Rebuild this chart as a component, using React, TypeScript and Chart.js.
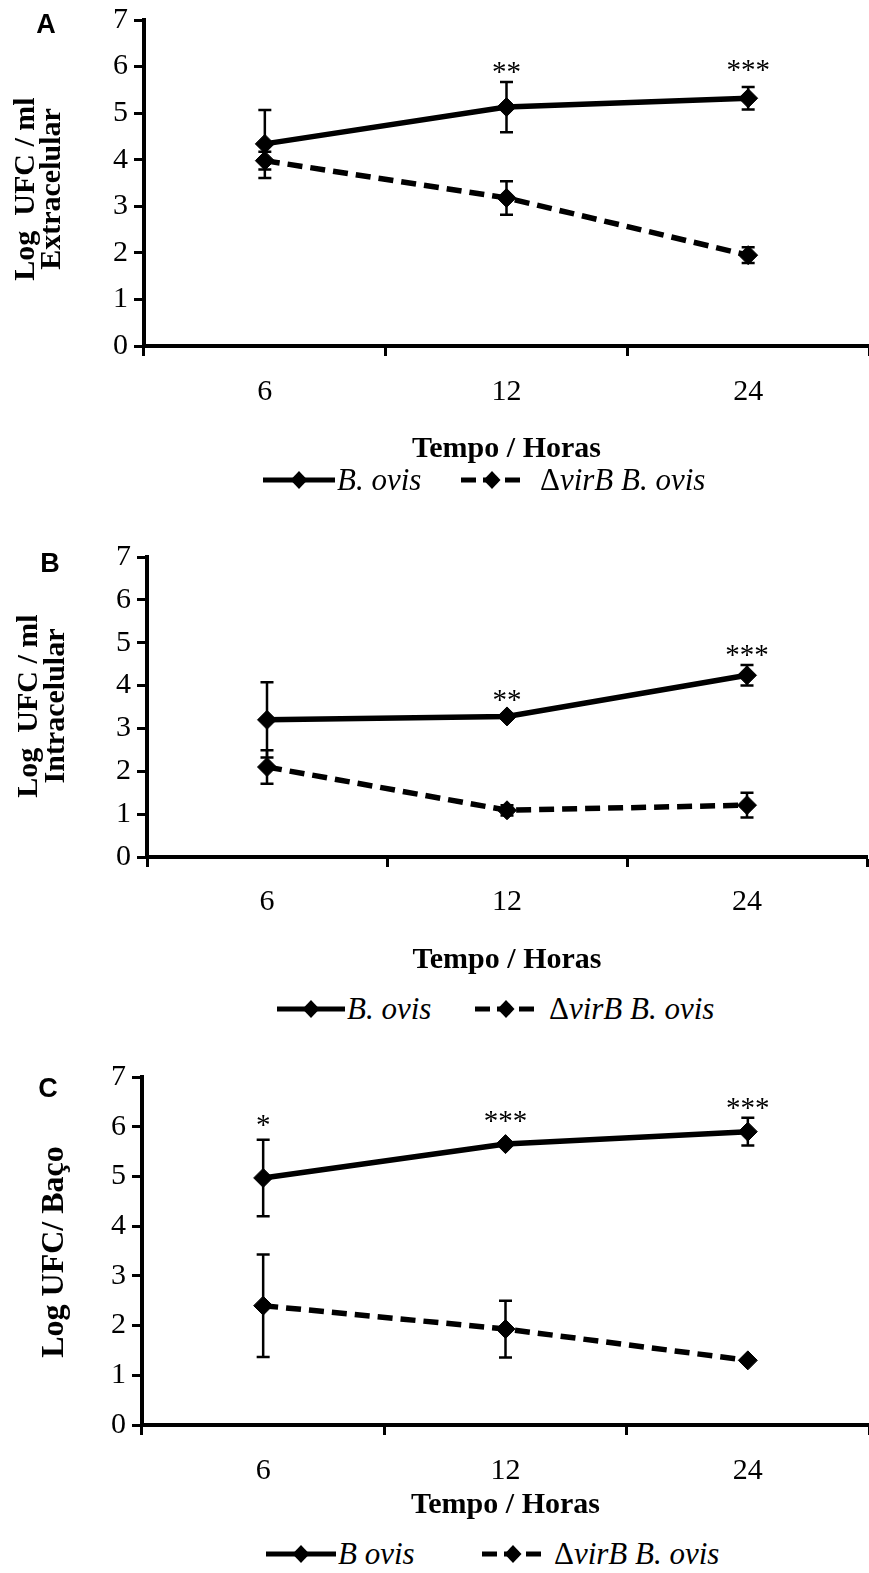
import React, { useEffect, useRef } from 'react';
import { Chart, registerables } from 'chart.js';

Chart.register(...registerables);

// ---------- data ----------
const hours = ['6', '12', '24'];

// Panel A – extracelular
const extraBOvis = [4.34, 5.13, 5.32];
const extraBOvisErr = [0.73, 0.54, 0.24];
const extraVirB = [3.98, 3.18, 1.95];
const extraVirBErr = [0.19, 0.36, 0.17];
const extraSigLabels = ['', '**', '***'];
const extraSigY = [null, 5.98, 6.02];

// Panel B – intracelular
const intraBOvis = [3.2, 3.28, 4.24];
const intraBOvisErr = [0.88, 0.05, 0.24];
const intraVirB = [2.1, 1.09, 1.21];
const intraVirBErr = [0.39, 0.12, 0.29];
const intraSigLabels = ['', '**', '***'];
const intraSigY = [null, 3.77, 4.82];

// Panel C – baço
const spleenBOvis = [4.97, 5.65, 5.9];
const spleenBOvisErr = [0.77, 0.03, 0.28];
const spleenVirB = [2.4, 1.93, 1.3];
const spleenVirBErr = [1.03, 0.57, 0];
const spleenSigLabels = ['*', '***', '***'];
const spleenSigY = [6.13, 6.2, 6.47];

const yMin = 0;
const yMax = 7;
const yStep = 1;

// ---------- styling ----------
const SERIF = '"Liberation Serif", "Times New Roman", Times, serif';
const SANS = '"Liberation Sans", Arial, Helvetica, sans-serif';

const errorBarPlugin = {
  id: 'errorBars',
  beforeDatasetsDraw(chart: any, _args: any, opts: any) {
    const { ctx } = chart;
    const x = chart.scales.x;
    const y = chart.scales.y;
    (opts.errors || []).forEach((errs: number[], di: number) => {
      const values = chart.data.datasets[di].data as number[];
      errs.forEach((e, i) => {
        if (!e) return;
        const v = values[i];
        const px = x.getPixelForValue(i);
        const top = y.getPixelForValue(v + e);
        const bot = y.getPixelForValue(v - e);
        ctx.save();
        ctx.strokeStyle = '#000';
        ctx.lineWidth = 2.5;
        ctx.beginPath();
        ctx.moveTo(px, top);
        ctx.lineTo(px, bot);
        ctx.moveTo(px - 6.5, top);
        ctx.lineTo(px + 6.5, top);
        ctx.moveTo(px - 6.5, bot);
        ctx.lineTo(px + 6.5, bot);
        ctx.stroke();
        ctx.restore();
      });
    });
  },
};

const sigPlugin = {
  id: 'sigMarks',
  afterDatasetsDraw(chart: any, _args: any, opts: any) {
    const { ctx } = chart;
    const x = chart.scales.x;
    const y = chart.scales.y;
    const size = 29;
    ctx.save();
    ctx.fillStyle = '#000';
    ctx.font = `${size}px ${SERIF}`;
    ctx.textAlign = 'center';
    ctx.textBaseline = 'alphabetic';
    (opts.labels || []).forEach((lab: string, i: number) => {
      const v = opts.values[i];
      if (!lab || v == null) return;
      ctx.fillText(lab, x.getPixelForValue(i), y.getPixelForValue(v) + size * 0.47);
    });
    ctx.restore();
  },
};

const panelTextPlugin = {
  id: 'panelText',
  afterDraw(chart: any, _args: any, opts: any) {
    const { ctx } = chart;
    ctx.save();
    ctx.fillStyle = '#000';
    ctx.font = `bold 27px ${SANS}`;
    ctx.textAlign = 'center';
    ctx.textBaseline = 'middle';
    ctx.fillText(opts.letter, opts.letterX, opts.letterY);
    ctx.font = `bold ${opts.titleSize}px ${SERIF}`;
    ctx.textBaseline = 'alphabetic';
    (opts.yTitle as string[]).forEach((line, i) => {
      ctx.save();
      ctx.translate(opts.yTitleBaseX[i], opts.yTitleY);
      ctx.rotate(-Math.PI / 2);
      ctx.fillText(line, 0, 0);
      ctx.restore();
    });
    ctx.restore();
  },
};

type PanelCfg = {
  top: number; // canvas top (page px)
  height: number; // canvas height
  y7: number; // page px of y=7
  y0: number; // page px of y=0
  axisX: number;
  right: number;
  tickCenter: number;
  letter: string;
  letterX: number;
  letterY: number;
  yTitle: string[];
  yTitleBaseX: number[];
  yTitleY: number;
  titleSize: number;
  bovis: number[];
  bovisErr: number[];
  virB: number[];
  virBErr: number[];
  sigLabels: string[];
  sigY: (number | null)[];
};

function Panel({ cfg }: { cfg: PanelCfg }) {
  const ref = useRef<HTMLCanvasElement | null>(null);
  useEffect(() => {
    if (!ref.current) return;
    const tickFont = { family: SERIF, size: 30, lineHeight: 1.2 };
    const padTop = cfg.y7 - cfg.top;
    const xHeight = cfg.top + cfg.height - cfg.y0;
    const tickPad = cfg.tickCenter - cfg.y0 - 10 - 18;
    const chart = new Chart(ref.current, {
      type: 'line',
      data: {
        labels: hours,
        datasets: [
          {
            label: 'B. ovis',
            data: cfg.bovis,
            borderColor: '#000',
            backgroundColor: '#000',
            borderWidth: 5.5,
            pointStyle: 'rectRot',
            pointRadius: 9.5,
            pointBorderWidth: 1,
            pointBackgroundColor: '#000',
            pointBorderColor: '#000',
            tension: 0,
          },
          {
            label: 'ΔvirB B. ovis',
            data: cfg.virB,
            borderColor: '#000',
            backgroundColor: '#000',
            borderWidth: 5.5,
            borderDash: [15, 8],
            borderCapStyle: 'butt',
            pointStyle: 'rectRot',
            pointRadius: 9.5,
            pointBorderWidth: 1,
            pointBackgroundColor: '#000',
            pointBorderColor: '#000',
            tension: 0,
          },
        ],
      },
      options: {
        animation: false,
        responsive: false,
        maintainAspectRatio: false,
        devicePixelRatio: 1,
        events: [],
        layout: {
          autoPadding: false,
          padding: { top: padTop, right: 869 - cfg.right, bottom: 0, left: 0 },
        },
        plugins: {
          legend: { display: false },
          tooltip: { enabled: false },
          errorBars: { errors: [cfg.bovisErr, cfg.virBErr] },
          sigMarks: { labels: cfg.sigLabels, values: cfg.sigY },
          panelText: {
            letter: cfg.letter,
            letterX: cfg.letterX,
            letterY: cfg.letterY - cfg.top,
            yTitle: cfg.yTitle,
            yTitleBaseX: cfg.yTitleBaseX,
            yTitleY: cfg.yTitleY - cfg.top,
            titleSize: cfg.titleSize,
          },
        } as any,
        scales: {
          x: {
            type: 'category',
            offset: true,
            grid: {
              display: true,
              drawOnChartArea: false,
              drawTicks: true,
              tickLength: 10,
              tickWidth: 3,
              tickColor: '#000',
              offset: true,
            },
            border: { display: true, color: '#000', width: 4 },
            ticks: { color: '#000', font: tickFont, padding: tickPad, maxRotation: 0, autoSkip: false },
            title: {
              display: true,
              text: 'Tempo / Horas',
              color: '#000',
              font: { family: SERIF, size: 30, weight: 'bold', lineHeight: 1.2 },
              padding: 0,
            },
            afterFit: (s: any) => {
              s.height = xHeight;
              s.paddingLeft = 0;
              s.paddingRight = 0;
              s.paddingTop = 0;
              s.paddingBottom = 0;
            },
          },
          y: {
            min: yMin,
            max: yMax,
            ticks: { stepSize: yStep, color: '#000', font: tickFont, padding: 6 },
            grid: {
              display: true,
              drawOnChartArea: false,
              drawTicks: true,
              tickLength: 10,
              tickWidth: 3,
              tickColor: '#000',
            },
            border: { display: true, color: '#000', width: 4 },
            afterFit: (s: any) => {
              s.width = cfg.axisX;
              s.paddingLeft = 0;
              s.paddingRight = 0;
              s.paddingTop = 0;
              s.paddingBottom = 0;
            },
          },
        },
      } as any,
      plugins: [errorBarPlugin, sigPlugin, panelTextPlugin],
    });
    return () => chart.destroy();
  }, [cfg]);
  return (
    <canvas
      ref={ref}
      width={869}
      height={cfg.height}
      style={{ position: 'absolute', left: 0, top: cfg.top, width: 869, height: cfg.height }}
    />
  );
}

type LegendCfg = {
  y: number;
  solidX: number;
  solidW: number;
  text1X: number;
  text1: string;
  dashX: number;
  dashW: number;
  text2X: number;
};

function Diamond({ cx }: { cx: number }) {
  return <polygon points={`${cx},3 ${cx + 8.5},12 ${cx},21 ${cx - 8.5},12`} fill="#000" />;
}

function Legend({ cfg }: { cfg: LegendCfg }) {
  const textStyle: React.CSSProperties = {
    position: 'absolute',
    top: cfg.y - 20,
    height: 40,
    lineHeight: '40px',
    fontFamily: SERIF,
    fontSize: 31,
    fontStyle: 'italic',
    color: '#000',
    whiteSpace: 'nowrap',
  };
  return (
    <>
      <svg
        width={cfg.solidW}
        height={24}
        style={{ position: 'absolute', left: cfg.solidX, top: cfg.y - 12 }}
      >
        <line x1={0} y1={12} x2={cfg.solidW} y2={12} stroke="#000" strokeWidth={5} />
        <Diamond cx={cfg.solidW / 2} />
      </svg>
      <span style={{ ...textStyle, left: cfg.text1X }}>{cfg.text1}</span>
      <svg
        width={cfg.dashW}
        height={24}
        style={{ position: 'absolute', left: cfg.dashX, top: cfg.y - 12 }}
      >
        <line
          x1={0}
          y1={12}
          x2={cfg.dashW}
          y2={12}
          stroke="#000"
          strokeWidth={5}
          strokeDasharray="15 7"
        />
        <Diamond cx={cfg.dashW / 2} />
      </svg>
      <span style={{ ...textStyle, left: cfg.text2X }}>
        <span style={{ fontStyle: 'normal' }}>Δ</span>virB B. ovis
      </span>
    </>
  );
}

const panelA: PanelCfg = {
  top: 0,
  height: 467,
  y7: 20,
  y0: 346,
  axisX: 144,
  right: 869,
  tickCenter: 392,
  letter: 'A',
  letterX: 46,
  letterY: 26,
  yTitle: ['Log  UFC / ml', 'Extracelular'],
  yTitleBaseX: [34, 60],
  yTitleY: 189,
  titleSize: 30,
  bovis: extraBOvis,
  bovisErr: extraBOvisErr,
  virB: extraVirB,
  virBErr: extraVirBErr,
  sigLabels: extraSigLabels,
  sigY: extraSigY,
};

const panelB: PanelCfg = {
  top: 536,
  height: 442,
  y7: 557,
  y0: 857,
  axisX: 147,
  right: 867,
  tickCenter: 902,
  letter: 'B',
  letterX: 50,
  letterY: 565,
  yTitle: ['Log  UFC / ml', 'Intracelular'],
  yTitleBaseX: [37, 64],
  yTitleY: 706,
  titleSize: 30,
  bovis: intraBOvis,
  bovisErr: intraBOvisErr,
  virB: intraVirB,
  virBErr: intraVirBErr,
  sigLabels: intraSigLabels,
  sigY: intraSigY,
};

const panelC: PanelCfg = {
  top: 1056,
  height: 467,
  y7: 1077,
  y0: 1425,
  axisX: 142,
  right: 869,
  tickCenter: 1471,
  letter: 'C',
  letterX: 48,
  letterY: 1090,
  yTitle: ['Log UFC/ Baço'],
  yTitleBaseX: [63],
  yTitleY: 1252,
  titleSize: 32,
  bovis: spleenBOvis,
  bovisErr: spleenBOvisErr,
  virB: spleenVirB,
  virBErr: spleenVirBErr,
  sigLabels: spleenSigLabels,
  sigY: spleenSigY,
};

const legendA: LegendCfg = { y: 480, solidX: 263, solidW: 72, text1X: 337, text1: 'B. ovis', dashX: 461, dashW: 62, text2X: 540 };
const legendB: LegendCfg = { y: 1009, solidX: 277, solidW: 68, text1X: 347, text1: 'B. ovis', dashX: 475, dashW: 62, text2X: 549 };
const legendC: LegendCfg = { y: 1554, solidX: 266, solidW: 70, text1X: 338, text1: 'B ovis', dashX: 482, dashW: 62, text2X: 554 };

export default function App() {
  return (
    <div
      style={{
        position: 'absolute',
        left: 0,
        top: 0,
        width: 869,
        height: 1573,
        overflow: 'hidden',
        background: '#fff',
      }}
    >
      <Panel cfg={panelA} />
      <Panel cfg={panelB} />
      <Panel cfg={panelC} />
      <Legend cfg={legendA} />
      <Legend cfg={legendB} />
      <Legend cfg={legendC} />
    </div>
  );
}
